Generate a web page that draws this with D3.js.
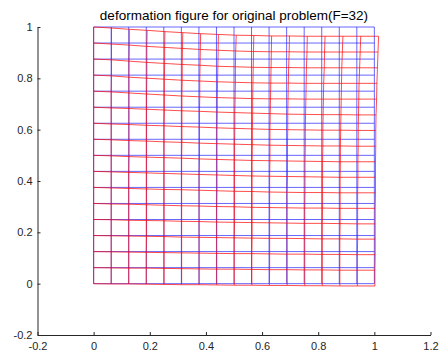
<!DOCTYPE html>
<html>
<head>
<meta charset="utf-8">
<script src="https://cdn.jsdelivr.net/npm/d3@7"></script>
<style>
  html, body { margin: 0; padding: 0; background: #fff; }
  svg { display: block; }
  .axis text { font-family: "Liberation Sans", Arial, sans-serif; font-size: 11px; fill: #262626; }
  .axis path, .axis line { stroke: #262626; }
</style>
</head>
<body>
<svg id="chart" width="441" height="358"></svg>
<script>
const title = 'deformation figure for original problem(F=32)';

// mesh node coordinates (16 x 16 elements on the unit square)
const nodes = [0, 0.0625, 0.125, 0.1875, 0.25, 0.3125, 0.375, 0.4375, 0.5,
    0.5625, 0.625, 0.6875, 0.75, 0.8125, 0.875, 0.9375, 1];

const xTicks = [-0.2, 0, 0.2, 0.4, 0.6, 0.8, 1, 1.2];
const yTicks = [-0.2, 0, 0.2, 0.4, 0.6, 0.8, 1];

// nodal x displacement, in 1/1000, one row per mesh row (bottom -> top)
const uxRows = [
    [0, 0, 0, 0, 1, 1, 1, 1, 1, 1, 1, 2, 2, 2, 2, 2, 2],
    [0, 0, 0, 0, 1, 1, 1, 1, 1, 1, 2, 2, 2, 2, 2, 2, 2],
    [0, 0, 0, 0, 1, 1, 1, 1, 1, 1, 2, 2, 2, 2, 2, 2, 3],
    [0, 0, 0, 1, 1, 1, 1, 1, 1, 2, 2, 2, 2, 2, 2, 3, 3],
    [0, 0, 0, 1, 1, 1, 1, 1, 2, 2, 2, 2, 2, 2, 3, 3, 3],
    [0, 0, 0, 1, 1, 1, 1, 1, 2, 2, 2, 2, 2, 3, 3, 3, 3],
    [0, 0, 0, 1, 1, 1, 1, 2, 2, 2, 2, 2, 3, 3, 3, 3, 4],
    [0, 0, 0, 1, 1, 1, 1, 2, 2, 2, 2, 3, 3, 3, 3, 4, 4],
    [0, 0, 1, 1, 1, 1, 2, 2, 2, 2, 3, 3, 3, 3, 4, 4, 4],
    [0, 0, 1, 1, 1, 2, 2, 2, 2, 3, 3, 3, 4, 4, 4, 5, 5],
    [0, 0, 1, 1, 1, 2, 2, 2, 3, 3, 3, 4, 4, 4, 5, 5, 5],
    [0, 0, 1, 1, 2, 2, 2, 3, 3, 4, 4, 4, 5, 5, 6, 6, 6],
    [0, 0, 1, 1, 2, 2, 3, 3, 4, 4, 5, 5, 6, 6, 7, 7, 8],
    [0, 1, 1, 2, 2, 3, 3, 4, 5, 5, 6, 6, 7, 7, 8, 8, 9],
    [0, 1, 1, 2, 3, 3, 4, 5, 5, 6, 7, 7, 8, 9, 9, 10, 11],
    [0, 1, 2, 2, 3, 4, 5, 6, 6, 7, 8, 9, 10, 10, 11, 12, 13],
    [0, 1, 2, 3, 4, 5, 6, 7, 8, 8, 9, 10, 11, 12, 13, 14, 15]
];

// nodal y displacement, in 1/1000 (negative = down), bottom -> top
const uyRows = [
    [0, -1, -1, -2, -3, -4, -4, -5, -6, -6, -7, -7, -8, -8, -9, -9, -9],
    [0, -1, -2, -2, -3, -4, -5, -6, -6, -7, -8, -8, -9, -9, -10, -10, -10],
    [0, -1, -2, -3, -4, -5, -6, -7, -8, -8, -9, -10, -10, -11, -11, -12, -12],
    [0, -1, -2, -3, -4, -6, -7, -8, -9, -10, -11, -11, -12, -13, -13, -14, -14],
    [0, -1, -3, -4, -5, -7, -8, -10, -11, -12, -13, -14, -15, -15, -16, -17, -17],
    [0, -2, -3, -5, -7, -9, -10, -12, -13, -15, -16, -17, -18, -18, -19, -19, -19],
    [0, -2, -4, -6, -8, -9, -11, -13, -15, -16, -18, -19, -20, -20, -21, -21, -21],
    [0, -2, -4, -6, -8, -10, -12, -14, -16, -18, -19, -20, -21, -22, -23, -23, -23],
    [0, -2, -5, -7, -9, -11, -14, -16, -18, -20, -21, -22, -23, -24, -25, -25, -25],
    [0, -2, -5, -7, -10, -12, -15, -17, -19, -21, -23, -24, -25, -26, -26, -27, -27],
    [0, -3, -5, -8, -10, -13, -15, -18, -20, -22, -24, -25, -26, -27, -27, -28, -28],
    [0, -3, -5, -8, -11, -14, -16, -19, -21, -23, -25, -27, -28, -29, -29, -30, -30],
    [0, -3, -7, -11, -15, -19, -22, -25, -27, -29, -30, -30, -31, -31, -31, -31, -31],
    [0, -3, -8, -12, -16, -20, -23, -26, -28, -30, -31, -31, -32, -32, -32, -32, -32],
    [0, -3, -8, -13, -17, -21, -24, -28, -30, -32, -33, -33, -34, -34, -34, -34, -34],
    [0, -4, -8, -13, -17, -21, -25, -28, -31, -33, -34, -34, -35, -35, -35, -35, -35],
    [0, -4, -9, -13, -18, -22, -26, -29, -32, -33, -35, -35, -36, -36, -36, -36, -36]
];

const svg = d3.select('#chart');

const x = d3.scaleLinear().domain([-0.2, 1.2]).range([37.5, 430.5]);
const y = d3.scaleLinear().domain([-0.2, 1]).range([335, 27]);

const line = d3.line().x(d => x(d[0])).y(d => y(d[1]));

// original mesh: rows and columns of nodes
const origRows = nodes.map(yv => nodes.map(xv => [xv, yv]));
const origCols = nodes.map(xv => nodes.map(yv => [xv, yv]));

// deformed mesh
const defPt = (i, j) => [nodes[i] + uxRows[j][i] / 1000, nodes[j] + uyRows[j][i] / 1000];
const defRows = nodes.map((_, j) => nodes.map((_, i) => defPt(i, j)));
const defCols = nodes.map((_, i) => nodes.map((_, j) => defPt(i, j)));

const mesh = svg.append('g').attr('fill', 'none');
mesh.append('g')
    .attr('stroke', '#0000ff')
    .attr('stroke-opacity', 0.6)
    .selectAll('path')
    .data(origRows.concat(origCols))
    .join('path')
    .attr('d', line);

mesh.append('g')
    .attr('stroke', '#ff0000')
    .attr('stroke-opacity', 0.7)
    .selectAll('path')
    .data(defRows.concat(defCols))
    .join('path')
    .attr('d', line);

// axes (MATLAB style, box off, ticks inward)
svg.append('g')
    .attr('class', 'axis')
    .attr('transform', `translate(0,${y(-0.2)})`)
    .call(d3.axisBottom(x).tickValues(xTicks).tickFormat(d => String(d))
        .tickSizeInner(-3).tickSizeOuter(0).tickPadding(7));

svg.append('g')
    .attr('class', 'axis')
    .attr('transform', `translate(${x(-0.2)},0)`)
    .call(d3.axisLeft(y).tickValues(yTicks).tickFormat(d => String(d))
        .tickSizeInner(-3).tickSizeOuter(0).tickPadding(5));

svg.selectAll('.axis .domain').attr('stroke-width', 1);

svg.append('text')
    .attr('x', (x(-0.2) + x(1.2)) / 2)
    .attr('y', 20)
    .attr('text-anchor', 'middle')
    .attr('font-family', '"Liberation Sans", Arial, sans-serif')
    .attr('font-size', 13.5)
    .attr('fill', '#000')
    .text(title);
</script>
</body>
</html>
